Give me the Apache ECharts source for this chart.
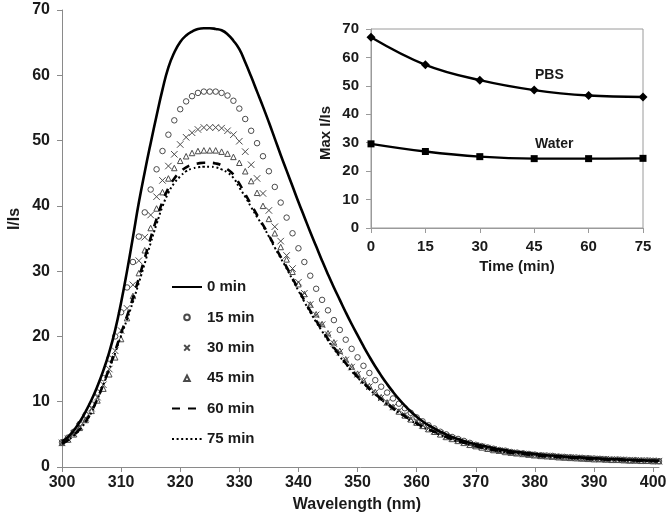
<!DOCTYPE html>
<html><head><meta charset="utf-8">
<script src="https://cdn.jsdelivr.net/npm/echarts@6/dist/echarts.min.js"></script>
<style>html,body{margin:0;padding:0;background:#fff}#c{width:672px;height:522px}</style>
</head><body><div id="c"></div>
<script>
// ---------- DATA ----------
const wavelengths = [300,301,302,303,304,305,306,307,308,309,310,311,312,313,314,315,316,317,318,319,320,321,322,323,324,325,326,327,328,329,330,331,332,333,334,335,336,337,338,339,340,341,342,343,344,345,346,347,348,349,350,351,352,353,354,355,356,357,358,359,360,361,362,363,364,365,366,367,368,369,370,371,372,373,374,375,376,377,378,379,380,381,382,383,384,385,386,387,388,389,390,391,392,393,394,395,396,397,398,399,400,401];
const xTicks = [300,310,320,330,340,350,360,370,380,390,400];
const seriesNames = ['0 min','15 min','30 min','45 min','60 min','75 min'];
const t0 = [3.9,4.6,5.6,6.9,8.5,10.3,12.4,14.8,17.6,21.0, 25.2,30.0,35.2,40.5,45.2,49.6,53.8,57.8,61.2,63.5, 65.1,66.1,66.7,67.1,67.2,67.2,67.1,66.9,66.3,65.3, 64.0,62.0,59.8,57.5,55.2,52.8,50.3,47.8,45.4,43.0, 40.6,38.3,36.0,33.8,31.6,29.5,27.5,25.6,23.7,21.9, 20.2,18.5,16.9,15.4,14.0,12.7,11.5,10.4,9.4,8.5, 7.7,7.0,6.4,5.9,5.4,5.0,4.6,4.3,4.0,3.7, 3.5,3.3,3.1,2.9,2.7,2.6,2.4,2.3,2.2,2.1, 2.0,1.9,1.8,1.75,1.7,1.6,1.55,1.5,1.45,1.4, 1.35,1.3,1.25,1.2,1.2,1.15,1.1,1.1,1.05,1.0, 1.0,0.95];
const t15 = [3.8,4.5,5.4,6.6,8.0,9.6,11.4,13.6,16.6,20.0, 23.7,27.5,31.4,35.3,39.0,42.5,45.6,48.4,50.9,53.1, 54.8,56.0,56.8,57.3,57.5,57.5,57.5,57.3,56.9,56.1, 54.9,53.3,51.5,49.6,47.6,45.3,42.9,40.5,38.2,35.8, 33.5,31.4,29.3,27.3,25.6,24.0,22.5,21.0,19.5,18.1, 16.8,15.5,14.4,13.3,12.3,11.4,10.5,9.7,9.0,8.3, 7.6,7.0,6.4,5.9,5.4,5.0,4.6,4.3,4.0,3.7, 3.4,3.2,3.0,2.8,2.6,2.5,2.3,2.2,2.1,2.0, 1.9,1.8,1.75,1.7,1.6,1.55,1.5,1.45,1.4,1.35, 1.3,1.25,1.2,1.15,1.15,1.1,1.05,1.05,1.0,1.0, 0.95,0.9];
const t30 = [3.7,4.3,5.1,6.2,7.5,9.0,10.7,12.6,15.0,17.8, 20.9,24.3,27.9,31.6,35.2,38.6,41.4,43.9,46.1,47.9, 49.4,50.5,51.2,51.7,52.0,52.0,52.0,51.9,51.5,50.9, 49.9,48.3,46.3,44.2,41.9,39.3,36.8,34.6,32.4,30.4, 28.3,26.6,24.9,23.3,21.8,20.3,18.9,17.6,16.4,15.3, 14.2,13.2,12.3,11.4,10.6,9.9,9.2,8.6,8.0,7.4, 6.9,6.4,5.9,5.5,5.1,4.7,4.4,4.1,3.8,3.5, 3.3,3.1,2.9,2.7,2.5,2.4,2.2,2.1,2.0,1.9, 1.8,1.75,1.7,1.6,1.55,1.5,1.45,1.4,1.35,1.3, 1.25,1.2,1.2,1.15,1.1,1.1,1.05,1.0,1.0,0.95, 0.95,0.9];
const t45 = [3.7,4.2,5.0,6.0,7.2,8.6,10.2,12.0,14.2,16.8, 19.6,22.8,26.2,29.7,33.2,36.6,39.6,42.1,44.2,45.8, 46.9,47.6,48.1,48.4,48.5,48.5,48.5,48.3,48.0,47.5, 46.6,45.3,43.8,42.0,40.0,38.0,35.8,33.7,31.8,29.9, 28.0,26.5,24.9,23.4,21.9,20.5,19.1,17.8,16.5,15.4, 14.3,13.3,12.4,11.5,10.7,9.9,9.2,8.5,7.9,7.3, 6.8,6.3,5.8,5.4,5.0,4.6,4.3,4.0,3.7,3.4, 3.2,3.0,2.8,2.6,2.5,2.3,2.2,2.1,2.0,1.9, 1.8,1.7,1.65,1.6,1.5,1.45,1.4,1.35,1.3,1.25, 1.2,1.2,1.15,1.1,1.1,1.05,1.0,1.0,0.95,0.95, 0.9,0.9];
const t60 = [3.6,4.1,4.9,5.8,7.0,8.5,10.5,12.7,15.2,17.8, 20.5,23.1,25.9,28.9,32.0,35.1,38.0,40.6,42.7,44.2, 45.2,45.9,46.3,46.5,46.6,46.6,46.5,46.2,45.6,44.8, 43.4,41.8,40.2,38.6,37.1,35.5,33.8,32.2,30.6,28.9, 27.2,25.5,23.9,22.4,21.0,19.6,18.3,17.1,15.9,14.8, 13.8,12.9,12.0,11.2,10.4,9.7,9.0,8.4,7.8,7.2, 6.7,6.2,5.8,5.4,5.0,4.6,4.3,4.0,3.7,3.5, 3.2,3.0,2.8,2.6,2.5,2.3,2.2,2.1,2.0,1.9, 1.8,1.7,1.65,1.6,1.5,1.45,1.4,1.35,1.3,1.25, 1.2,1.2,1.15,1.1,1.1,1.05,1.0,1.0,0.95,0.95, 0.9,0.9];
const t75 = [3.6,4.1,4.8,5.7,6.9,8.4,10.4,12.6,15.0,17.5, 20.1,22.6,25.3,28.2,31.2,34.3,37.2,39.9,42.0,43.5, 44.5,45.3,45.7,45.9,46.0,46.0,45.9,45.6,45.1,44.3, 42.8,41.4,39.8,38.3,36.9,35.3,33.6,32.0,30.4,28.7, 27.0,25.3,23.7,22.2,20.8,19.4,18.1,16.9,15.8,14.7, 13.7,12.8,11.9,11.1,10.3,9.6,8.9,8.3,7.7,7.1, 6.6,6.1,5.7,5.3,4.9,4.6,4.2,3.9,3.7,3.4, 3.2,3.0,2.8,2.6,2.4,2.3,2.2,2.1,2.0,1.9, 1.8,1.7,1.6,1.55,1.5,1.45,1.4,1.35,1.3,1.25, 1.2,1.15,1.1,1.1,1.05,1.0,1.0,0.95,0.95,0.9, 0.9,0.85];
const insetTimes = [0,15,30,45,60,75];
const pbsMax = [67.1,57.4,52.0,48.5,46.6,46.1];
const waterMax = [29.6,26.9,25.1,24.4,24.4,24.5];

// ---------- CHART ----------
const FONT = '"Liberation Sans", Arial, sans-serif';
const TXT = '#1a1a1a';
const pairs = arr => wavelengths.map((w, i) => [w, arr[i]]);
const chart = echarts.init(document.getElementById('c'), null, {renderer: 'canvas'});

const markerStyle = {color: 'none', borderColor: '#4a4a4a', borderWidth: 1};
const mainSeries = [
  {name: seriesNames[0], type: 'line', data: pairs(t0), symbol: 'none', smooth: true,
   lineStyle: {color: '#000', width: 2.6}, itemStyle: {color: '#000'}, z: 5},
  {name: seriesNames[1], type: 'line', data: pairs(t15), symbol: 'circle', symbolSize: 5.5, showAllSymbol: true,
   lineStyle: {width: 0, opacity: 0}, itemStyle: markerStyle},
  {name: seriesNames[2], type: 'line', data: pairs(t30), symbol: 'path://M0,0L10,10M10,0L0,10', symbolSize: 6.5, showAllSymbol: true,
   lineStyle: {width: 0, opacity: 0}, itemStyle: markerStyle},
  {name: seriesNames[3], type: 'line', data: pairs(t45), symbol: 'triangle', symbolSize: 5.5, showAllSymbol: true,
   lineStyle: {width: 0, opacity: 0}, itemStyle: markerStyle},
  {name: seriesNames[4], type: 'line', data: pairs(t60), symbol: 'none', smooth: true,
   lineStyle: {color: '#000', width: 2.6, type: [8, 8]}, itemStyle: {color: '#000'}, z: 4},
  {name: seriesNames[5], type: 'line', data: pairs(t75), symbol: 'none', smooth: true,
   lineStyle: {color: '#000', width: 2, type: [2, 2.6]}, itemStyle: {color: '#000'}, z: 4}
];

const insetSeries = [
  {name: 'PBS', type: 'line', xAxisIndex: 1, yAxisIndex: 1, data: insetTimes.map((t, i) => [t, pbsMax[i]]),
   smooth: 0.4, symbol: 'diamond', symbolSize: 9, lineStyle: {color: '#000', width: 2.4}, itemStyle: {color: '#000'}},
  {name: 'Water', type: 'line', xAxisIndex: 1, yAxisIndex: 1, data: insetTimes.map((t, i) => [t, waterMax[i]]),
   smooth: 0.4, symbol: 'rect', symbolSize: 7, lineStyle: {color: '#000', width: 2.4}, itemStyle: {color: '#000'}}
];

const hiddenSym = {opacity: 0};
const legendData = [
  {name: seriesNames[0], itemStyle: hiddenSym},
  {name: seriesNames[1]},
  {name: seriesNames[2]},
  {name: seriesNames[3]},
  {name: seriesNames[4], itemStyle: hiddenSym},
  {name: seriesNames[5], itemStyle: hiddenSym}
];

const option = {
  animation: false,
  backgroundColor: '#fff',
  textStyle: {fontFamily: FONT},
  grid: [
    {left: 62, right: 13, top: 10, bottom: 55, containLabel: false},
    {left: 371, right: 29, top: 29, bottom: 294, show: true, borderColor: '#9a9a9a', borderWidth: 1, backgroundColor: 'transparent'}
  ],
  xAxis: [
    {type: 'value', gridIndex: 0, min: 300, max: 401, interval: 10,
     axisLine: {lineStyle: {color: '#8a8a8a', width: 1}},
     axisTick: {show: true, length: 5, lineStyle: {color: '#8a8a8a'}, customValues: xTicks},
     axisLabel: {customValues: xTicks, color: TXT, fontWeight: 'bold', fontSize: 16, fontFamily: FONT, margin: 8},
     splitLine: {show: false}},
    {type: 'value', gridIndex: 1, min: 0, max: 75, interval: 15,
     axisLine: {lineStyle: {color: '#9a9a9a', width: 1}},
     axisTick: {show: true, length: 5, lineStyle: {color: '#9a9a9a'}},
     axisLabel: {color: TXT, fontWeight: 'bold', fontSize: 15, fontFamily: FONT, margin: 11},
     splitLine: {show: false}}
  ],
  yAxis: [
    {type: 'value', gridIndex: 0, min: 0, max: 70, interval: 10,
     axisLine: {show: true, lineStyle: {color: '#8a8a8a', width: 1}},
     axisTick: {show: true, length: 5, lineStyle: {color: '#8a8a8a'}},
     axisLabel: {color: TXT, fontWeight: 'bold', fontSize: 16, fontFamily: FONT, margin: 12},
     splitLine: {show: false}},
    {type: 'value', gridIndex: 1, min: 0, max: 70, interval: 10,
     axisLine: {show: true, lineStyle: {color: '#9a9a9a', width: 1}},
     axisTick: {show: true, length: 5, lineStyle: {color: '#9a9a9a'}},
     axisLabel: {color: TXT, fontWeight: 'bold', fontSize: 15, fontFamily: FONT, margin: 12},
     splitLine: {show: false}}
  ],
  legend: {
    data: legendData, orient: 'vertical', left: 166, top: 274.5,
    itemWidth: 30, itemHeight: 7, itemGap: 15.4,
    textStyle: {color: TXT, fontWeight: 'bold', fontSize: 15, fontFamily: FONT},
    selectedMode: false
  },
  graphic: [
    {type: 'text', x: 15, y: 219, rotation: Math.PI / 2,
     style: {text: 'I/Is', fill: TXT, font: 'bold 16px ' + FONT, align: 'center', verticalAlign: 'middle'}},
    {type: 'text', x: 357, y: 505, style: {text: 'Wavelength (nm)', fill: TXT, font: 'bold 16px ' + FONT, align: 'center', verticalAlign: 'middle'}},
    {type: 'text', x: 517, y: 267, style: {text: 'Time (min)', fill: TXT, font: 'bold 15px ' + FONT, align: 'center', verticalAlign: 'middle'}},
    {type: 'text', x: 326, y: 133, rotation: Math.PI / 2, style: {text: 'Max I/Is', fill: TXT, font: 'bold 15px ' + FONT, align: 'center', verticalAlign: 'middle'}},
    {type: 'text', x: 535, y: 75, style: {text: 'PBS', fill: TXT, font: 'bold 14px ' + FONT, align: 'left', verticalAlign: 'middle'}},
    {type: 'text', x: 535, y: 144, style: {text: 'Water', fill: TXT, font: 'bold 14px ' + FONT, align: 'left', verticalAlign: 'middle'}}
  ],
  series: mainSeries.concat(insetSeries)
};
chart.setOption(option);
</script>
</body></html>
